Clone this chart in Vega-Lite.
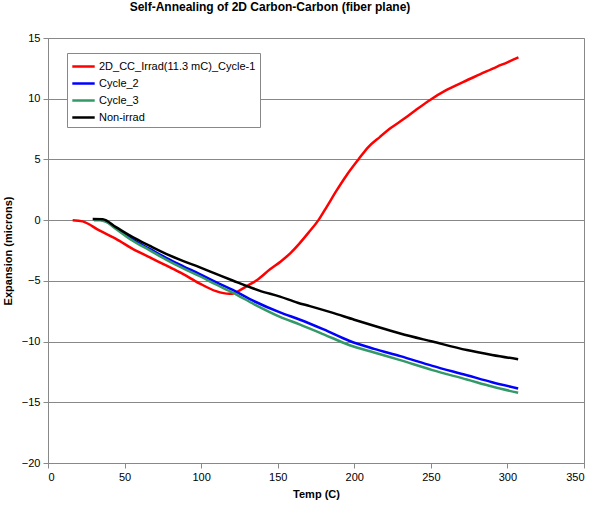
{
  "$schema": "https://vega.github.io/schema/vega-lite/v6.json",
  "autosize": "none",
  "width": 536,
  "height": 425,
  "padding": {"left": 48, "top": 38, "right": 8, "bottom": 47},
  "background": "white",
  "title": {
    "text": "Self-Annealing of 2D Carbon-Carbon (fiber plane)",
    "font": "Liberation Sans",
    "fontSize": 12,
    "fontWeight": "bold",
    "color": "#000",
    "anchor": "middle",
    "dx": -46,
    "offset": 18
  },
  "config": {
    "view": {"stroke": "#888", "strokeWidth": 1},
    "axis": {
      "labelFont": "Liberation Sans",
      "labelFontSize": 11,
      "labelColor": "#000",
      "titleFont": "Liberation Sans",
      "titleFontSize": 11,
      "titleFontWeight": "bold",
      "titleColor": "#000",
      "domainColor": "#888",
      "tickColor": "#888",
      "tickSize": 5,
      "gridColor": "#888",
      "gridWidth": 1
    }
  },
  "data": {
    "values": [
      {"series": "2D_CC_Irrad(11.3 mC)_Cycle-1", "temp": 16.1, "exp": 0},
      {"series": "2D_CC_Irrad(11.3 mC)_Cycle-1", "temp": 22.6, "exp": -0.1},
      {"series": "2D_CC_Irrad(11.3 mC)_Cycle-1", "temp": 33.5, "exp": -0.85},
      {"series": "2D_CC_Irrad(11.3 mC)_Cycle-1", "temp": 44.4, "exp": -1.54},
      {"series": "2D_CC_Irrad(11.3 mC)_Cycle-1", "temp": 55.3, "exp": -2.36},
      {"series": "2D_CC_Irrad(11.3 mC)_Cycle-1", "temp": 66.2, "exp": -3.05},
      {"series": "2D_CC_Irrad(11.3 mC)_Cycle-1", "temp": 77.1, "exp": -3.73},
      {"series": "2D_CC_Irrad(11.3 mC)_Cycle-1", "temp": 88, "exp": -4.42},
      {"series": "2D_CC_Irrad(11.3 mC)_Cycle-1", "temp": 98.8, "exp": -5.2},
      {"series": "2D_CC_Irrad(11.3 mC)_Cycle-1", "temp": 109.7, "exp": -5.85},
      {"series": "2D_CC_Irrad(11.3 mC)_Cycle-1", "temp": 118.4, "exp": -6.07},
      {"series": "2D_CC_Irrad(11.3 mC)_Cycle-1", "temp": 122, "exp": -6.0},
      {"series": "2D_CC_Irrad(11.3 mC)_Cycle-1", "temp": 126, "exp": -5.72},
      {"series": "2D_CC_Irrad(11.3 mC)_Cycle-1", "temp": 131, "exp": -5.35},
      {"series": "2D_CC_Irrad(11.3 mC)_Cycle-1", "temp": 136.3, "exp": -4.95},
      {"series": "2D_CC_Irrad(11.3 mC)_Cycle-1", "temp": 145, "exp": -4.05},
      {"series": "2D_CC_Irrad(11.3 mC)_Cycle-1", "temp": 152, "exp": -3.4},
      {"series": "2D_CC_Irrad(11.3 mC)_Cycle-1", "temp": 158, "exp": -2.75},
      {"series": "2D_CC_Irrad(11.3 mC)_Cycle-1", "temp": 164, "exp": -1.95},
      {"series": "2D_CC_Irrad(11.3 mC)_Cycle-1", "temp": 170, "exp": -1.05},
      {"series": "2D_CC_Irrad(11.3 mC)_Cycle-1", "temp": 176.6, "exp": 0},
      {"series": "2D_CC_Irrad(11.3 mC)_Cycle-1", "temp": 182, "exp": 1.1},
      {"series": "2D_CC_Irrad(11.3 mC)_Cycle-1", "temp": 188.6, "exp": 2.47},
      {"series": "2D_CC_Irrad(11.3 mC)_Cycle-1", "temp": 195, "exp": 3.7},
      {"series": "2D_CC_Irrad(11.3 mC)_Cycle-1", "temp": 202.7, "exp": 5.0},
      {"series": "2D_CC_Irrad(11.3 mC)_Cycle-1", "temp": 209, "exp": 6.0},
      {"series": "2D_CC_Irrad(11.3 mC)_Cycle-1", "temp": 216.8, "exp": 6.86},
      {"series": "2D_CC_Irrad(11.3 mC)_Cycle-1", "temp": 224, "exp": 7.6},
      {"series": "2D_CC_Irrad(11.3 mC)_Cycle-1", "temp": 232, "exp": 8.3},
      {"series": "2D_CC_Irrad(11.3 mC)_Cycle-1", "temp": 240, "exp": 9.05},
      {"series": "2D_CC_Irrad(11.3 mC)_Cycle-1", "temp": 249.5, "exp": 9.9},
      {"series": "2D_CC_Irrad(11.3 mC)_Cycle-1", "temp": 260, "exp": 10.7},
      {"series": "2D_CC_Irrad(11.3 mC)_Cycle-1", "temp": 271.3, "exp": 11.39},
      {"series": "2D_CC_Irrad(11.3 mC)_Cycle-1", "temp": 282, "exp": 12.0},
      {"series": "2D_CC_Irrad(11.3 mC)_Cycle-1", "temp": 293, "exp": 12.63},
      {"series": "2D_CC_Irrad(11.3 mC)_Cycle-1", "temp": 300, "exp": 13.0},
      {"series": "2D_CC_Irrad(11.3 mC)_Cycle-1", "temp": 307.2, "exp": 13.4},

      {"series": "Cycle_2", "temp": 30, "exp": 0.05},
      {"series": "Cycle_2", "temp": 34, "exp": 0.05},
      {"series": "Cycle_2", "temp": 38, "exp": -0.1},
      {"series": "Cycle_2", "temp": 44.4, "exp": -0.65},
      {"series": "Cycle_2", "temp": 55.3, "exp": -1.6},
      {"series": "Cycle_2", "temp": 66.2, "exp": -2.35},
      {"series": "Cycle_2", "temp": 77.1, "exp": -3.1},
      {"series": "Cycle_2", "temp": 88, "exp": -3.78},
      {"series": "Cycle_2", "temp": 98.8, "exp": -4.42},
      {"series": "Cycle_2", "temp": 109.7, "exp": -5.1},
      {"series": "Cycle_2", "temp": 120.6, "exp": -5.75},
      {"series": "Cycle_2", "temp": 135, "exp": -6.7},
      {"series": "Cycle_2", "temp": 151.5, "exp": -7.6},
      {"series": "Cycle_2", "temp": 164.6, "exp": -8.2},
      {"series": "Cycle_2", "temp": 180, "exp": -9.0},
      {"series": "Cycle_2", "temp": 197, "exp": -9.95},
      {"series": "Cycle_2", "temp": 213, "exp": -10.6},
      {"series": "Cycle_2", "temp": 230, "exp": -11.2},
      {"series": "Cycle_2", "temp": 251, "exp": -12.0},
      {"series": "Cycle_2", "temp": 273.5, "exp": -12.77},
      {"series": "Cycle_2", "temp": 290, "exp": -13.35},
      {"series": "Cycle_2", "temp": 307, "exp": -13.86},

      {"series": "Cycle_3", "temp": 30, "exp": 0.0},
      {"series": "Cycle_3", "temp": 34, "exp": 0.0},
      {"series": "Cycle_3", "temp": 38, "exp": -0.15},
      {"series": "Cycle_3", "temp": 44.4, "exp": -0.72},
      {"series": "Cycle_3", "temp": 55.3, "exp": -1.7},
      {"series": "Cycle_3", "temp": 66.2, "exp": -2.47},
      {"series": "Cycle_3", "temp": 77.1, "exp": -3.25},
      {"series": "Cycle_3", "temp": 88, "exp": -3.95},
      {"series": "Cycle_3", "temp": 98.8, "exp": -4.6},
      {"series": "Cycle_3", "temp": 109.7, "exp": -5.3},
      {"series": "Cycle_3", "temp": 120.6, "exp": -5.97},
      {"series": "Cycle_3", "temp": 135, "exp": -6.95},
      {"series": "Cycle_3", "temp": 151.5, "exp": -7.96},
      {"series": "Cycle_3", "temp": 164.6, "exp": -8.6},
      {"series": "Cycle_3", "temp": 180, "exp": -9.4},
      {"series": "Cycle_3", "temp": 197, "exp": -10.3},
      {"series": "Cycle_3", "temp": 213, "exp": -10.9},
      {"series": "Cycle_3", "temp": 230, "exp": -11.53},
      {"series": "Cycle_3", "temp": 251, "exp": -12.35},
      {"series": "Cycle_3", "temp": 273.5, "exp": -13.12},
      {"series": "Cycle_3", "temp": 290, "exp": -13.7},
      {"series": "Cycle_3", "temp": 307, "exp": -14.22},

      {"series": "Non-irrad", "temp": 29.2, "exp": 0.1},
      {"series": "Non-irrad", "temp": 35.7, "exp": 0.08},
      {"series": "Non-irrad", "temp": 44.4, "exp": -0.58},
      {"series": "Non-irrad", "temp": 55.3, "exp": -1.4},
      {"series": "Non-irrad", "temp": 66.2, "exp": -2.1},
      {"series": "Non-irrad", "temp": 77.1, "exp": -2.77},
      {"series": "Non-irrad", "temp": 88, "exp": -3.35},
      {"series": "Non-irrad", "temp": 98.8, "exp": -3.87},
      {"series": "Non-irrad", "temp": 109.7, "exp": -4.42},
      {"series": "Non-irrad", "temp": 120.6, "exp": -4.97},
      {"series": "Non-irrad", "temp": 138, "exp": -5.8},
      {"series": "Non-irrad", "temp": 151.5, "exp": -6.3},
      {"series": "Non-irrad", "temp": 163, "exp": -6.8},
      {"series": "Non-irrad", "temp": 171, "exp": -7.08},
      {"series": "Non-irrad", "temp": 185, "exp": -7.6},
      {"series": "Non-irrad", "temp": 200, "exp": -8.2},
      {"series": "Non-irrad", "temp": 215, "exp": -8.78},
      {"series": "Non-irrad", "temp": 230, "exp": -9.33},
      {"series": "Non-irrad", "temp": 251, "exp": -10.0},
      {"series": "Non-irrad", "temp": 273.5, "exp": -10.7},
      {"series": "Non-irrad", "temp": 290, "exp": -11.1},
      {"series": "Non-irrad", "temp": 307, "exp": -11.45}
    ]
  },
  "mark": {"type": "line", "strokeWidth": 2.5, "interpolate": "monotone"},
  "encoding": {
    "x": {
      "field": "temp",
      "type": "quantitative",
      "title": "Temp (C)",
      "scale": {"domain": [0, 350], "nice": false, "zero": false},
      "axis": {"values": [0, 50, 100, 150, 200, 250, 300, 350], "grid": false, "labelPadding": 3, "titlePadding": 6}
    },
    "y": {
      "field": "exp",
      "type": "quantitative",
      "title": "Expansion (microns)",
      "scale": {"domain": [-20, 15], "nice": false, "zero": false},
      "axis": {"values": [-20, -15, -10, -5, 0, 5, 10, 15], "grid": true, "labelPadding": 3, "titlePadding": 8}
    },
    "color": {
      "field": "series",
      "type": "nominal",
      "scale": {
        "domain": ["2D_CC_Irrad(11.3 mC)_Cycle-1", "Cycle_2", "Cycle_3", "Non-irrad"],
        "range": ["#ff0000", "#0000ff", "#339966", "#000000"]
      },
      "legend": {
        "title": null,
        "orient": "none",
        "legendX": 19,
        "legendY": 15,
        "strokeColor": "#888",
        "fillColor": "white",
        "padding": 4,
        "symbolType": "M-1.4,0H1.4",
        "symbolSize": 256,
        "symbolStrokeWidth": 2.5,
        "symbolOffset": 3,
        "labelFont": "Liberation Sans",
        "labelFontSize": 11,
        "labelColor": "#000",
        "labelOffset": 6,
        "rowPadding": 2
      }
    }
  }
}
